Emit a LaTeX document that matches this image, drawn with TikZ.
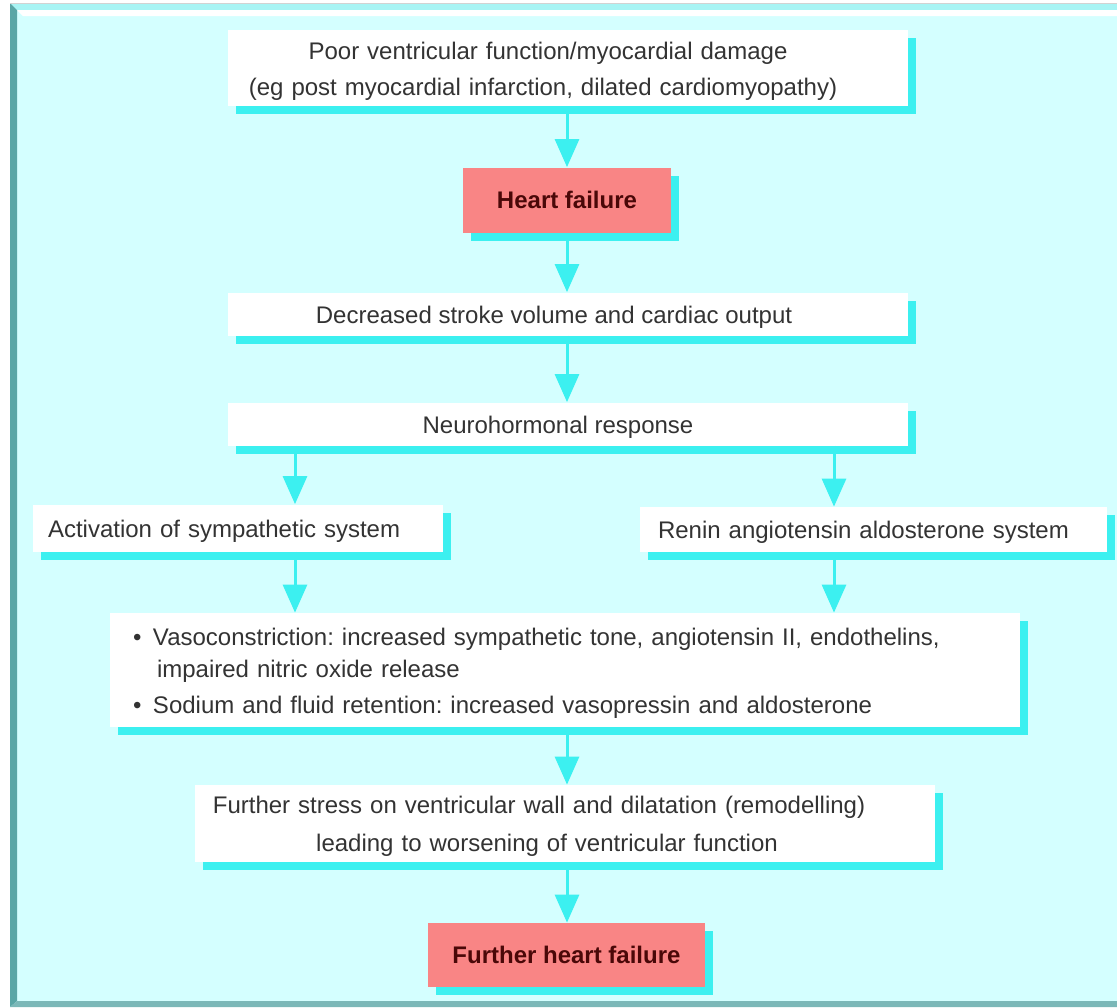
\documentclass[tikz,border=0pt]{standalone}
\usepackage{fontspec}
\setmainfont{Liberation Sans}
\frenchspacing
\usetikzlibrary{arrows.meta}
\usetikzlibrary{shadows}
\definecolor{bgcyan}{HTML}{D4FFFF}
\definecolor{shadecyan}{HTML}{3CF0F0}
\definecolor{framecyan}{HTML}{A8F4F4}
\definecolor{frameteal}{HTML}{5AA6A6}
\definecolor{boxpink}{HTML}{F98585}
\definecolor{inktext}{HTML}{333333}
\definecolor{inkred}{HTML}{4A0808}
\newcommand{\lift}{\rule{0pt}{11.6pt}}
\tikzset{
    shaded/.style={inner sep=0pt, align=center,
        drop shadow={shadow xshift=4pt, shadow yshift=-4pt, fill=shadecyan, opacity=1}},
    box/.style={shaded, fill=white, text=inktext,
        font=\fontsize{12}{18}\selectfont, execute at begin node=\lift},
    redbox/.style={shaded, fill=boxpink, text=inkred, font=\fontsize{12}{18}\selectfont\bfseries},
    flow/.style={draw=shadecyan, line width=1.5pt, -{Triangle[length=14pt, width=12pt]}}
}

\begin{document}
\begin{tikzpicture}[x=0.5pt, y=-0.5pt]
    \useasboundingbox (0,0) rectangle (1117,1007);
    \fill[white] (0,0) rectangle (1117,1007);
    \fill[bgcyan] (10,3) rectangle (1117,1007);
    \fill[framecyan] (10,3) -- (1117,3) -- (1117,10) -- (17,10) -- cycle;
    \fill[white] (17,10) -- (1117,10) -- (1117,16) -- (23,16) -- cycle;
    \fill[frameteal] (10,3) -- (17,10) -- (17,1001) -- (10,1007) -- cycle;
    \fill[frameteal!80] (10,1007) -- (17,1001) -- (1117,1001) -- (1117,1007) -- cycle;
    \draw[gray!35, line width=0.5pt] (10,3) -- (1117,3);

    \node[box, minimum width=340pt, minimum height=38pt, text width=340pt] (poor) at (568,68)
        {Poor ventricular function/myocardial damage\kern20pt\\(eg post myocardial infarction, dilated cardiomyopathy)\kern25pt};
    \node[redbox, minimum width=104pt, minimum height=32.5pt] (hf) at (567,200) {Heart failure};
    \node[box, minimum width=340pt, minimum height=21.5pt] (dec) at (568,314)
        {Decreased stroke volume and cardiac output\kern14pt};
    \node[box, minimum width=340pt, minimum height=21.5pt] (neuro) at (568,424)
        {Neurohormonal response\kern10pt};
    \node[box, minimum width=205pt, minimum height=23.5pt, text width=190pt, align=left] (symp) at (238,528)
        {Activation of sympathetic system};
    \node[box, minimum width=233.5pt, minimum height=22.5pt, text width=215.5pt, align=left] (raas) at (873.5,529.5)
        {Renin angiotensin aldosterone system};
    \node[box, minimum width=455pt, minimum height=57pt, text width=432pt, align=left] (effects) at (565,670)
        {\makebox[10pt][l]{\textbullet}Vasoconstriction: increased sympathetic tone, angiotensin II, endothelins,\\[-2pt]
         \hspace*{12pt}impaired nitric oxide release\\
         \makebox[10pt][l]{\textbullet}Sodium and fluid retention: increased vasopressin and aldosterone};
    \node[box, minimum width=370pt, minimum height=38.5pt, text width=370pt] (stress) at (565,823.5)
        {Further stress on ventricular wall and dilatation (remodelling)\kern26pt\\[1pt]leading to worsening of ventricular function\kern18pt};
    \node[redbox, minimum width=138.5pt, minimum height=32pt] (fhf) at (566.5,955) {Further heart failure};

    \coordinate (lx) at (295,0);
    \coordinate (rx) at (834,0);
    \draw[flow] (poor.south -| hf.north) -- (hf.north);
    \draw[flow] (hf.south) -- (dec.north -| hf.south);
    \draw[flow] (dec.south -| hf.south) -- (neuro.north -| hf.south);
    \draw[flow] (neuro.south -| lx) -- (symp.north -| lx);
    \draw[flow] (neuro.south -| rx) -- (raas.north -| rx);
    \draw[flow] (symp.south -| lx) -- (effects.north -| lx);
    \draw[flow] (raas.south -| rx) -- (effects.north -| rx);
    \draw[flow] (effects.south -| hf.south) -- (stress.north -| hf.south);
    \draw[flow] (stress.south -| hf.south) -- (fhf.north -| hf.south);
\end{tikzpicture}
\end{document}
